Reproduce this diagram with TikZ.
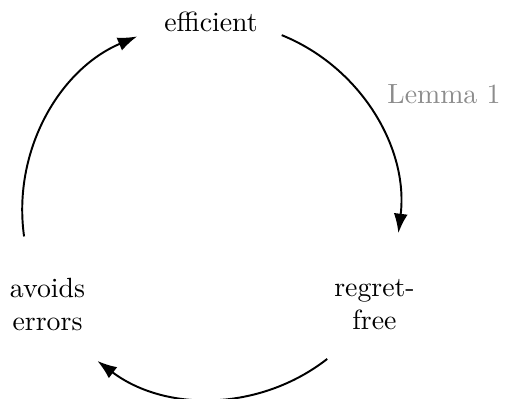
\documentclass[tikz,border=0pt]{standalone}
\usetikzlibrary{arrows.meta}
\begin{document}
\begin{tikzpicture}[
  cyc/.style={-{Latex[length=7pt,width=5pt]}, line width=0.7pt},
  lbl/.style={align=center, inner sep=0pt},
  note/.style={text=black!45, inner sep=0pt},
]
\def\R{67.9pt}
\useasboundingbox (-75.9pt,-67.9pt) rectangle (105.75pt,75.6pt);
\coordinate (c) at (0,0);
\node[lbl] (eff) at (90:\R) {efficient};
\node[lbl] (reg) at (-30:\R) {regret-\\free};
\node[lbl] (avo) at (210:\R) {avoids\\errors};
\node[note] (lem) at (83.8pt,41.6pt) {Lemma 1};
\coordinate (a1) at (68:\R);
\coordinate (a2) at (-52:\R);
\coordinate (a3) at (188:\R);
\draw[cyc] (a1) arc[start angle=68, end angle=-7, radius=\R];
\draw[cyc] (a2) arc[start angle=-52, end angle=-127, radius=\R];
\draw[cyc] (a3) arc[start angle=188, end angle=113, radius=\R];
\end{tikzpicture}
\end{document}
